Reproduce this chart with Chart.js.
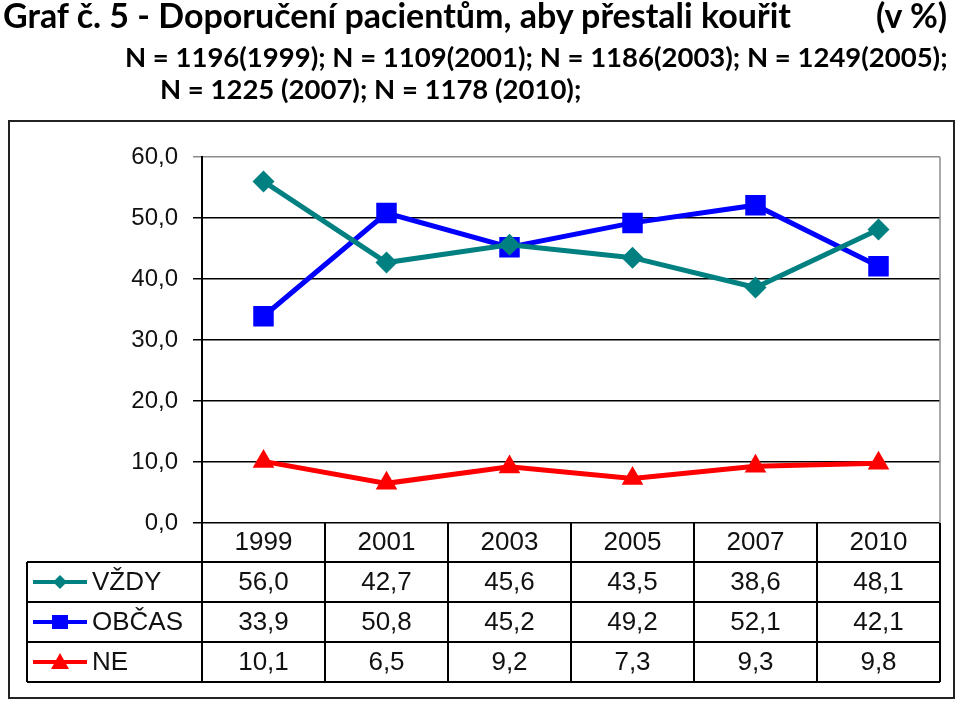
<!DOCTYPE html>
<html>
<head>
<meta charset="utf-8">
<script src="https://cdn.jsdelivr.net/npm/chart.js@4/dist/chart.umd.min.js"></script>
<style>
    html, body { margin: 0; padding: 0; background: #fff; }
    #wrap { position: relative; width: 959px; height: 702px; overflow: hidden; }
    #chart { position: absolute; left: 0; top: 0; }
    .t { position: absolute; font-family: Lato, 'Open Sans', sans-serif; font-weight: bold; color: #000; white-space: nowrap; line-height: 1; }
</style>
</head>
<body>
<div id="wrap">
    <canvas id="chart" width="959" height="702"></canvas>
    <div class="t" style="left:3px; top:-2px; font-size:34px;">Graf č. 5 - Doporučení pacientům, aby přestali kouřit</div>
    <div class="t" style="left:876px; top:-2px; font-size:34px;">(v %)</div>
    <div class="t" style="left:125px; top:43px; font-size:27.5px;">N = 1196(1999); N = 1109(2001); N = 1186(2003); N = 1249(2005);</div>
    <div class="t" style="left:160px; top:75px; font-size:27.5px;">N = 1225 (2007); N = 1178 (2010);</div>
</div>
<script>
    'use strict';

    // data
    const years = ['1999', '2001', '2003', '2005', '2007', '2010'];
    const vzdy = [56.0, 42.7, 45.6, 43.5, 38.6, 48.1];
    const obcas = [33.9, 50.8, 45.2, 49.2, 52.1, 42.1];
    const ne = [10.1, 6.5, 9.2, 7.3, 9.3, 9.8];
    const seriesNames = ['VŽDY', 'OBČAS', 'NE'];
    const yTicks = [0, 10, 20, 30, 40, 50, 60];

    const colors = ['#008080', '#0000FF', '#FF0000'];
    const fmt = (v) => v.toFixed(1).replace('.', ',');
    const tableFont = '26px "Liberation Sans", Arial, sans-serif';

    function drawMarker(ctx, kind, x, y, color) {
        ctx.save();
        ctx.fillStyle = color;
        ctx.beginPath();
        if (kind === 0) {
            ctx.moveTo(x, y - 7); ctx.lineTo(x + 7, y); ctx.lineTo(x, y + 7); ctx.lineTo(x - 7, y);
        } else if (kind === 1) {
            ctx.rect(x - 8, y - 7, 16, 14);
        } else {
            ctx.moveTo(x, y - 9); ctx.lineTo(x + 9, y + 7); ctx.lineTo(x - 9, y + 7);
        }
        ctx.closePath();
        ctx.fill();
        ctx.restore();
    }

    // data table + legend + frame under the plot
    const tablePlugin = {
        id: 'dataTable',
        afterDraw: function (chart) {
            const ctx = chart.ctx;
            const ca = chart.chartArea;
            const xs = chart.scales.x;
            const colW = (ca.right - ca.left) / years.length;
            const headTop = ca.bottom;
            const headBot = headTop + 39;
            const rowH = 40;
            const legLeft = 27;
            const rows = [vzdy, obcas, ne];

            ctx.save();
            // right border of plot area
            ctx.strokeStyle = '#8c8c8c';
            ctx.lineWidth = 1.5;
            ctx.beginPath();
            ctx.moveTo(ca.right, ca.top);
            ctx.lineTo(ca.right, ca.bottom);
            ctx.stroke();

            ctx.strokeStyle = '#000';
            ctx.lineWidth = 2;
            ctx.beginPath();
            // header row
            ctx.moveTo(ca.left, headTop); ctx.lineTo(ca.left, headBot);
            ctx.moveTo(legLeft, headBot); ctx.lineTo(ca.right, headBot);
            for (let i = 0; i < years.length; i++) {
                const xr = xs.getPixelForValue(i) + colW / 2;
                ctx.moveTo(xr, headTop); ctx.lineTo(xr, headBot + rowH * rows.length);
            }
            ctx.moveTo(legLeft, headBot); ctx.lineTo(legLeft, headBot + rowH * rows.length);
            ctx.moveTo(ca.left, headBot); ctx.lineTo(ca.left, headBot + rowH * rows.length);
            for (let r = 1; r <= rows.length; r++) {
                ctx.moveTo(legLeft, headBot + rowH * r); ctx.lineTo(ca.right, headBot + rowH * r);
            }
            ctx.stroke();

            ctx.fillStyle = '#111';
            ctx.font = tableFont;
            ctx.textAlign = 'center';
            ctx.textBaseline = 'middle';
            years.forEach(function (y, i) {
                ctx.fillText(y, xs.getPixelForValue(i), headTop + 20);
            });
            rows.forEach(function (vals, r) {
                const cy = headBot + rowH * r + rowH / 2 + 1;
                vals.forEach(function (v, i) {
                    ctx.fillText(fmt(v), xs.getPixelForValue(i), cy);
                });
            });

            // legend keys
            ctx.textAlign = 'left';
            rows.forEach(function (vals, r) {
                const cy = headBot + rowH * r + rowH / 2;
                ctx.strokeStyle = colors[r];
                ctx.lineWidth = 4;
                ctx.beginPath();
                ctx.moveTo(33, cy); ctx.lineTo(87, cy);
                ctx.stroke();
                drawMarker(ctx, r, 60, cy, colors[r]);
                ctx.fillStyle = '#111';
                ctx.fillText(seriesNames[r], 92, cy + 1);
            });

            // outer frame
            ctx.strokeStyle = '#222';
            ctx.lineWidth = 2;
            ctx.strokeRect(9, 121, 945, 577);
            ctx.restore();
        }
    };

    const ctx = document.getElementById('chart').getContext('2d');
    const myChart = new Chart(ctx, {
        type: 'line',
        data: {
            labels: years,
            datasets: [
                { label: seriesNames[0], data: vzdy, borderColor: colors[0], backgroundColor: colors[0], borderWidth: 5,
                  pointStyle: 'rectRot', pointRadius: 11, pointBorderWidth: 0 },
                { label: seriesNames[1], data: obcas, borderColor: colors[1], backgroundColor: colors[1], borderWidth: 5,
                  pointStyle: 'rect', pointRadius: 14.5, pointBorderWidth: 0 },
                { label: seriesNames[2], data: ne, borderColor: colors[2], backgroundColor: colors[2], borderWidth: 5,
                  pointStyle: 'triangle', pointRadius: 12.5, pointBorderWidth: 0 }
            ]
        },
        options: {
            responsive: false,
            animation: false,
            events: [],
            layout: { padding: { top: 157, right: 19, bottom: 179, left: 0 } },
            plugins: {
                legend: { display: false },
                tooltip: { enabled: false }
            },
            scales: {
                x: {
                    type: 'category',
                    offset: true,
                    display: false
                },
                y: {
                    min: 0,
                    max: 60,
                    afterFit: function (s) { s.width = 202; },
                    afterBuildTicks: function (s) { s.ticks = yTicks.map(v => ({ value: v })); },
                    border: { display: true, color: '#000', width: 2 },
                    grid: {
                        color: (c) => (c.tick && c.tick.value === 60) ? '#8c8c8c' : '#000',
                        lineWidth: 1.5,
                        tickLength: 9
                    },
                    ticks: {
                        padding: 15,
                        color: '#111',
                        font: { family: '"Liberation Sans", Arial, sans-serif', size: 24 },
                        callback: (v) => fmt(v)
                    }
                }
            }
        },
        plugins: [tablePlugin]
    });
</script>
</body>
</html>
